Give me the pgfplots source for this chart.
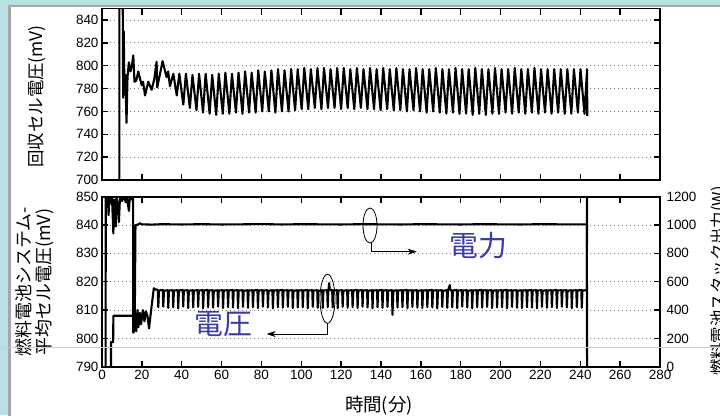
\documentclass[border=0pt]{standalone}
\usepackage{pgfplots}
\pgfplotsset{compat=1.18}
\usepackage{fontspec}
\setmainfont{Liberation Sans}
\newfontfamily\jp{Noto Sans CJK JP}
\usetikzlibrary{arrows.meta}
\definecolor{bgblue}{HTML}{B8DFE2}
\definecolor{annblue}{RGB}{58,58,168}
\pgfplotsset{
 myax/.style={scale only axis, width=558bp, xmin=0, xmax=280, xtick={0,20,...,280},
  tick align=inside, major tick length=6bp,
  axis line style={line width=1.8bp},
  every tick/.style={black, line width=1.5bp},
  /pgf/number format/assume math mode=true,
  /pgf/number format/1000 sep={},
  tick label style={font=\fontsize{13.5}{14}\selectfont},
  grid style={black!55, line width=0.8bp, dash pattern=on 1bp off 3bp}},
 dat/.style={black, line width=2.1bp, no markers, line join=round},
}
\begin{document}
\begin{tikzpicture}[x=1bp,y=1bp]
\path[use as bounding box] (0,0) rectangle (720,415);
\clip (0,0) rectangle (720,415);
\fill[bgblue] (0,0) rectangle (720,415);
\fill[gray!70] (8,-5) rectangle (725,410);
\fill[white] (10.5,-5) rectangle (725,408);

% top axis
\begin{axis}[myax, at={(102bp,235bp)}, anchor=south west, height=171.4bp,
  ymin=700, ymax=850, ytick={700,720,...,840}, xticklabels={}, ymajorgrids]
\addplot[dat] coordinates {
(8.7,690)(8.7,860)(10.4,860)(10.6,772)(10.9,830)(11.3,775)(11.7,792)(12.3,750)(12.8,790)(13.5,803)(14.3,795)(15,800)(15.7,809)(16.3,786)(17.2,787)(18.2,795)(19.9,783)(20.6,786)(21.6,774)(23.2,786)(24.9,779)(26.2,788)(27.4,803.5)(27.7,781)(29,792)(30.4,804)(32.4,790)(33.2,795)(34.1,782)(35.8,793)(37.5,774)
(38.8,793)(40.8,766)(42.1,793)(44.1,763)(45.4,792)(47.4,761)(48.7,793)(50.7,759)(52.0,793)(54.0,758)(55.3,792)(57.3,757)(58.6,793)(60.6,758)
(61.9,794)(63.9,758)(65.2,793)(67.2,759)(68.5,794)(70.5,758)(71.8,795)(73.8,759)(75.1,794)(77.1,759)(78.4,796)(80.4,760)(81.7,795)(83.7,760)
(85.0,796)(87.0,759)(88.3,797)(90.3,760)(91.6,796)(93.6,760)(94.9,797)(96.9,761)(98.2,797)(100.2,762)(101.5,798)(103.5,762)(104.8,797)(106.8,763)
(108.1,798)(110.1,762)(111.4,798)(113.4,763)(114.7,797)(116.7,763)(118.0,798)(120.0,762)(121.3,798)(123.3,763)(124.6,797)(126.6,762)
(127.9,798)(129.9,763)(131.2,797)(133.2,762)(134.5,798)(136.5,762)(137.8,797)(139.8,761)(141.1,798)(143.1,762)(144.4,797)(146.4,761)
(147.7,798)(149.7,761)(151.0,797)(153.0,760)(154.3,797)(156.3,761)(157.6,798)(159.6,760)(160.9,797)(162.9,759)(164.2,797)(166.2,760)
(167.5,798)(169.5,759)(170.8,797)(172.8,758)(174.1,797)(176.1,759)(177.4,798)(179.4,758)(180.7,797)(182.7,758)(184.0,797)(186.0,757)
(187.3,798)(189.3,758)(190.6,797)(192.6,757)(193.9,797)(195.9,758)(197.2,798)(199.2,758)(200.5,797)(202.5,759)(203.8,797)(205.8,758)
(207.1,798)(209.1,759)(210.4,797)(212.4,758)(213.7,797)(215.7,759)(217.0,798)(219.0,758)(220.3,797)(222.3,759)(223.6,797)(225.6,758)
(226.9,797)(228.9,759)(230.2,797)(232.2,758)(233.5,797)(235.5,758)(236.8,797)(238.8,759)(240.1,797)(242.1,758)(243.4,797)(243.5,756)
};
\end{axis}

% bottom axis, left scale (voltage)
\begin{axis}[myax, at={(102bp,48.3bp)}, anchor=south west, height=170bp,
  ymin=790, ymax=850, ytick={790,800,...,850}, ytick pos=left, ymajorgrids]
\addplot[dat] coordinates {
(4.5,785)(4.5,798.7)(5.6,798.7)(5.7,808)(15.8,808)(16.2,803)(16.6,809)(17.2,802.5)(17.8,810)(18.3,804)(19,809)(19.6,805)(20.5,810)(21.3,806)(22,809.5)(22.8,808)(23.6,803.5)(24.5,809)(25,812)(26,817.7)(27,817.2)
(28,817.2)(28.25,811.0)(28.6,816.9)(30.5,817.1)(30.75,811.2)(31.1,816.8)(33,817.0)(33.25,810.8)(33.6,816.9)(35.5,817.0)(35.75,811.0)(36.1,816.9)
(38,817.0)(38.25,810.6)(38.6,816.9)(40.5,817.1)(40.75,811.2)(41.1,816.9)(43,817.0)(43.25,810.7)(43.6,816.8)(45.5,817.0)(45.75,810.9)(46.1,816.9)
(48,817.0)(48.25,811.1)(48.6,816.9)(50.5,817.0)(50.75,810.6)(51.1,816.9)(53,817.1)(53.25,811.0)(53.6,816.9)(55.5,817.0)(55.75,810.8)(56.1,816.8)
(58,817.0)(58.25,811.2)(58.6,816.9)(60.5,817.0)(60.75,810.7)(61.1,816.9)(63,817.0)(63.25,811.0)(63.6,816.9)(65.5,817.1)(65.75,810.9)(66.1,816.9)
(68,817.0)(68.25,810.6)(68.6,816.9)(70.5,817.0)(70.75,811.1)(71.1,816.8)(73,817.0)(73.25,810.8)(73.6,816.9)(75.5,817.0)(75.75,811.0)(76.1,816.9)
(78,817.1)(78.25,810.7)(78.6,816.9)(80.5,817.0)(80.75,811.2)(81.1,816.9)(83,817.0)(83.25,810.9)(83.6,816.8)(85.5,817.0)(85.75,810.6)(86.1,816.9)
(88,817.0)(88.25,811.0)(88.6,816.9)(90.5,817.1)(90.75,810.8)(91.1,816.9)(93,817.0)(93.25,811.1)(93.6,816.9)(95.5,817.0)(95.75,810.7)(96.1,816.8)
(98,817.0)(98.25,810.9)(98.6,816.9)(100.5,817.0)(100.75,811.0)(101.1,816.9)(103,817.1)(103.25,810.6)(103.6,816.9)(105.5,817.0)(105.75,811.1)(106.1,816.9)
(108,817.0)(108.25,810.8)(108.6,816.8)(110.5,817.0)(110.75,810.7)(111.1,816.9)(113,817.0)(113.25,811.0)(113.6,816.9)(114,819.5)(114.3,817.0)(115.5,817.1)(115.75,810.9)(116.1,816.9)
(118,817.0)(118.25,810.6)(118.6,816.9)(120.5,817.0)(120.75,811.1)(121.1,816.8)(123,817.0)(123.25,810.8)(123.6,816.9)(125.5,817.0)(125.75,811.0)(126.1,816.9)
(128,817.1)(128.25,810.7)(128.6,816.9)(130.5,817.0)(130.75,811.2)(131.1,816.9)(133,817.0)(133.25,810.9)(133.6,816.8)(135.5,817.0)(135.75,810.6)(136.1,816.9)
(138,817.0)(138.25,811.0)(138.6,816.9)(140.5,817.1)(140.75,810.8)(141.1,816.9)(143,817.0)(143.25,811.1)(143.6,816.9)(145.5,817.0)(145.75,808.3)(146.2,816.8)
(148,817.0)(148.25,810.9)(148.6,816.9)(150.5,817.0)(150.75,811.0)(151.1,816.9)(153,817.1)(153.25,810.6)(153.6,816.9)(155.5,817.0)(155.75,811.1)(156.1,816.9)
(158,817.0)(158.25,810.8)(158.6,816.8)(160.5,817.0)(160.75,810.7)(161.1,816.9)(163,817.0)(163.25,811.0)(163.6,816.9)(165.5,817.1)(165.75,810.9)(166.1,816.9)
(168,817.0)(168.25,810.6)(168.6,816.9)(170.5,817.0)(170.75,811.1)(171.1,816.8)(173,817.0)(173.25,810.8)(173.6,816.9)(174.5,818.8)(174.8,817.0)(175.5,817.0)(175.75,811.0)(176.1,816.9)
(178,817.1)(178.25,810.7)(178.6,816.9)(180.5,817.0)(180.75,811.2)(181.1,816.9)(183,817.0)(183.25,810.9)(183.6,816.8)(185.5,817.0)(185.75,810.6)(186.1,816.9)
(188,817.0)(188.25,811.0)(188.6,816.9)(190.5,817.1)(190.75,810.8)(191.1,816.9)(193,817.0)(193.25,811.1)(193.6,816.9)(195.5,817.0)(195.75,810.7)(196.1,816.8)
(198,817.0)(198.25,810.9)(198.6,816.9)(200.5,817.0)(200.75,811.0)(201.1,816.9)(203,817.1)(203.25,810.6)(203.6,816.9)(205.5,817.0)(205.75,811.1)(206.1,816.9)
(208,817.0)(208.25,810.8)(208.6,816.8)(210.5,817.0)(210.75,810.7)(211.1,816.9)(213,817.0)(213.25,811.0)(213.6,816.9)(215.5,817.1)(215.75,810.9)(216.1,816.9)
(218,817.0)(218.25,810.6)(218.6,816.9)(220.5,817.0)(220.75,811.1)(221.1,816.8)(223,817.0)(223.25,810.8)(223.6,816.9)(225.5,817.0)(225.75,811.0)(226.1,816.9)
(228,817.1)(228.25,810.7)(228.6,816.9)(230.5,817.0)(230.75,811.2)(231.1,816.9)(233,817.0)(233.25,810.9)(233.6,816.8)(235.5,817.0)(235.75,810.6)(236.1,816.9)
(238,817.0)(238.25,811.0)(238.6,816.9)(240.5,817.1)(240.75,810.8)(241.1,816.9)(243.3,817.0)(243.4,860)
};
\end{axis}

% bottom axis, right scale (power)
\begin{axis}[myax, at={(102bp,48.3bp)}, anchor=south west, height=170bp,
  ymin=0, ymax=1200, ytick={0,200,...,1200}, axis x line=none, axis y line*=right,
  yticklabel style={xshift=3bp}]
\addplot[dat] coordinates {
(1.8,-50)(1.9,1250)(2.6,1250)(3.0,1180)(3.3,1070)(3.6,1190)(4.5,1150)(5.0,1200)(5.7,940)(6.1,1180)(6.9,990)(7.3,1190)(8.0,1150)(8.5,1020)(9.0,1190)(10,1170)(11,1200)(12,1160)(12.5,1195)(13.5,1100)(14,1200)(15,1180)(15.6,1190)(15.7,240)(16.4,260)(16.8,1000)(18,1003)(19,1012)(20,1005)(25,1003)(30,1006)(40,1004)(50,1006)(60,1004)(70,1005)(80,1007)(90,1004)(100,1006)(110,1005)(120,1004)(130,1006)(140,1005)(150,1004)(160,1006)(170,1005)(180,1004)(190,1006)(200,1005)(210,1004)(220,1006)(230,1005)(243.3,1005)(243.4,-50)
};
\end{axis}

% annotations
\draw[line width=0.8bp] (370,189.5) ellipse [x radius=7, y radius=17.5];
\draw[line width=0.8bp, -{Stealth[length=9bp,width=6bp]}] (371.5,172) -- (371.5,163.3) -- (416.7,163.3);
\draw[line width=0.8bp] (327.5,116.2) ellipse [x radius=7.5, y radius=24.5];
\draw[line width=0.8bp, -{Stealth[length=9bp,width=6bp]}] (327.5,91.7) -- (327.5,81) -- (266.7,81);
\node[annblue, font=\jp\fontsize{29}{29}\selectfont] at (478,169) {電力};
\node[annblue, font=\jp\fontsize{29}{29}\selectfont] at (223,91) {電圧};

% labels
\node[rotate=90, font=\jp\fontsize{17.5}{18}\selectfont] at (36.7,318.5) {回収セル電圧(mV)};
\node[rotate=90, align=center, font=\jp\fontsize{18}{20}\selectfont] at (35,133) {燃料電池システム-\\平均セル電圧(mV)};
\node[rotate=90, font=\jp\fontsize{16.5}{18}\selectfont] at (719,134) {燃料電池スタック出力(W)};
\node[font=\jp\fontsize{18.5}{18}\selectfont] at (379,9.5) {時間(分)};

\draw[bgblue!90!gray, line width=1bp] (0,68) -- (720,68);
\end{tikzpicture}
\end{document}
